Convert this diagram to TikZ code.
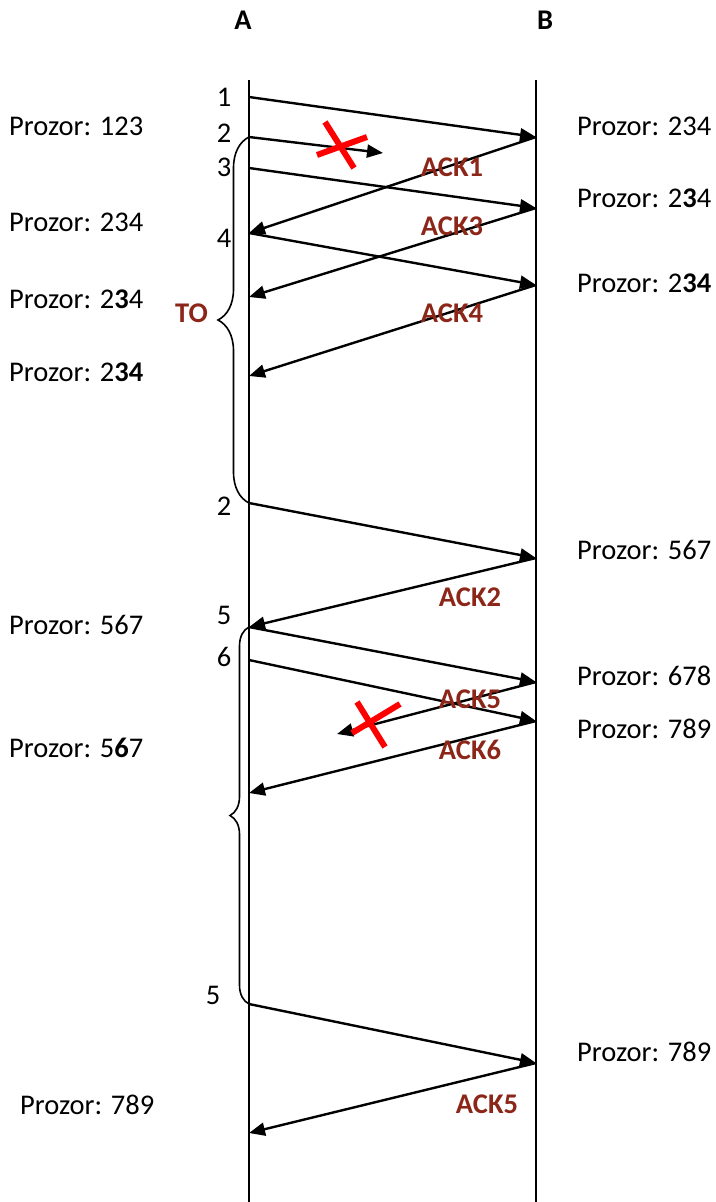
\documentclass[tikz,border=0pt]{standalone}
\usepackage{fontspec}
\setmainfont{Carlito}
\usetikzlibrary{arrows.meta,decorations.pathreplacing,positioning}
\definecolor{ackred}{RGB}{140,38,24}

\begin{document}
\begin{tikzpicture}[x=1pt, y=-1pt,
        font=\fontsize{28.5}{34}\selectfont,
        life/.style={line width=2pt},
        msg/.style={line width=2.4pt, -{Triangle[length=16pt,width=13pt]}},
        acklbl/.style={text=ackred, font=\fontsize{28.5}{34}\selectfont\bfseries},
        seqno/.style={inner sep=0pt},
        win/.style={anchor=west, inner sep=0pt},
        lostx/.style={red, line width=6pt},
        timeout/.style={line width=1.6pt, decorate, decoration={brace, mirror, amplitude=#1}}]
        \useasboundingbox (0,0) rectangle (715,1202);

        % hosts and lifelines
        \node[font=\fontsize{28.5}{34}\selectfont\bfseries] (A) at (243,20) {A};
        \node[font=\fontsize{28.5}{34}\selectfont\bfseries] (B) at (545,20) {B};
        \coordinate (Atop) at (249,80);
        \coordinate (Abot) at (249,1202);
        \coordinate (Btop) at (536,80);
        \coordinate (Bbot) at (536,1202);
        \draw[life] (Atop) -- (Abot);
        \draw[life] (Btop) -- (Bbot);

        % points on the lifelines
        \foreach \n/\y in {1/97,2/137,3/168,4/233,5/297,6/376,7/503,8/627,9/660,10/793,11/1004,12/1133}
            \coordinate (a\n) at (249,\y);
        \foreach \n/\y in {1/137,2/208,3/285,4/558,5/682,6/721,7/1063}
            \coordinate (b\n) at (536,\y);
        \coordinate (lost2) at (383,153);
        \coordinate (lost5) at (337,734);

        % segments and acks
        \draw[msg] (a1) -- (b1);
        \draw[msg] (a2) -- (lost2);
        \draw[msg] (a3) -- (b2);
        \draw[msg] (b1) -- (a4);
        \draw[msg] (a4) -- (b3);
        \draw[msg] (b2) -- (a5);
        \draw[msg] (b3) -- (a6);
        \draw[msg] (a7) -- (b4);
        \draw[msg] (b4) -- (a8);
        \draw[msg] (a8) -- (b5);
        \draw[msg] (a9) -- (b6);
        \draw[msg] (b5) -- (lost5);
        \draw[msg] (b6) -- (a10);
        \draw[msg] (a11) -- (b7);
        \draw[msg] (b7) -- (a12);

        % lost ones
        \draw[lostx] (325,122) -- (354,168);
        \draw[lostx] (317,155) -- (367,137);
        \draw[lostx] (357,702) -- (385,747);
        \draw[lostx] (352,733) -- (400,704);

        % timeouts
        \draw[timeout=31pt] (a2) -- (a7);
        \draw[timeout=19pt] (a8) -- (a11);
        \node[acklbl, anchor=east, inner sep=0pt] (to) at (208,313) {TO};

        % sequence numbers
        \node[seqno] (n1) at (224,97) {1};
        \node[seqno] (n2) at (224,133) {2};
        \node[seqno] (n3) at (224,167) {3};
        \node[seqno] (n4) at (224,238) {4};
        \node[seqno] (n2r) at (224,506) {2};
        \node[seqno] (n5) at (224,615) {5};
        \node[seqno] (n6) at (224,657) {6};
        \node[seqno] (n5r) at (213,995) {5};

        % ack labels
        \node[acklbl] (ack1) at (452,167) {ACK1};
        \node[acklbl] (ack3) at (452,226) {ACK3};
        \node[acklbl] (ack4) at (452,313) {ACK4};
        \node[acklbl] (ack2) at (470,597) {ACK2};
        \node[acklbl] (ack5) at (470,699) {ACK5};
        \node[acklbl] (ack6) at (470,750) {ACK6};
        \node[acklbl] (ack5r) at (487,1104) {ACK5};

        % windows at A
        \node[win] (wa1) at (9,126) {Prozor: 123};
        \node[win] (wa2) at (9,222) {Prozor: 234};
        \node[win] (wa3) at (9,299) {Prozor: 2\textbf{3}4};
        \node[win] (wa4) at (9,372) {Prozor: 2\textbf{34}};
        \node[win] (wa5) at (9,625) {Prozor: 567};
        \node[win] (wa6) at (9,748) {Prozor: 5\textbf{6}7};
        \node[win] (wa7) at (20,1105) {Prozor: 789};

        % windows at B
        \node[win] (wb1) at (577,126) {Prozor: 234};
        \node[win] (wb2) at (577,198) {Prozor: 2\textbf{3}4};
        \node[win] (wb3) at (577,283) {Prozor: 2\textbf{34}};
        \node[win] (wb4) at (577,550) {Prozor: 567};
        \node[win] (wb5) at (577,676) {Prozor: 678};
        \node[win] (wb6) at (577,729) {Prozor: 789};
        \node[win] (wb7) at (577,1052) {Prozor: 789};
\end{tikzpicture}
\end{document}
